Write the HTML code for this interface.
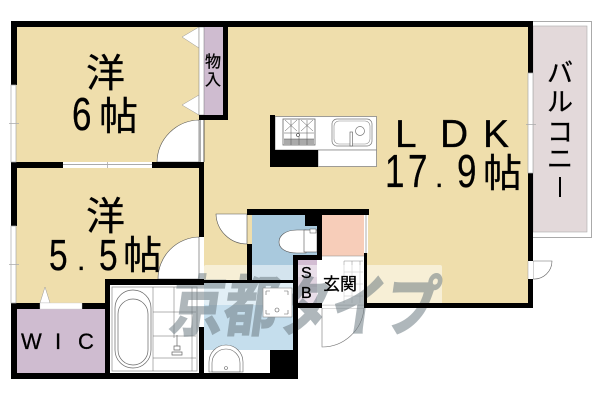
<!DOCTYPE html>
<html><head><meta charset="utf-8"><style>
html,body{margin:0;padding:0;background:#fff}
svg{display:block}
text{font-family:"Liberation Sans","Noto Sans CJK JP",sans-serif;fill:#000;stroke:#000;stroke-width:.3}
</style></head><body>
<svg width="600" height="400" viewBox="0 0 600 400" xmlns="http://www.w3.org/2000/svg">
<rect width="600" height="400" fill="#fff"/>
<!-- fills -->
<rect x="16" y="27" width="183" height="135" fill="#efdeac"/>
<rect x="16" y="168" width="183" height="135" fill="#efdeac"/>
<rect x="110" y="279" width="89" height="30" fill="#fff"/>
<rect x="204" y="27" width="324" height="276" fill="#efdeac"/>
<!-- balcony -->
<rect x="531.5" y="21.5" width="60" height="216" fill="#fff" stroke="#aaa"/>
<rect x="533" y="26" width="54" height="206" fill="#e3d9da" stroke="#aaa" stroke-width=".6"/>
<!-- closet / WIC -->
<rect x="204" y="27" width="19" height="88" fill="#cfbcd0"/>
<rect x="16" y="309" width="89" height="64" fill="#cfbcd0"/>
<!-- door swing whites -->
<path d="M157 162A43 43 0 0 1 199 120V162Z" fill="#fff" stroke="#555" stroke-width=".6"/>
<path d="M158 279A42 42 0 0 1 199 237V279Z" fill="#fff" stroke="#555" stroke-width=".6"/>
<path d="M216 214H247V244A31 31 0 0 1 216 214Z" fill="#fff" stroke="#555" stroke-width=".6"/>
<path d="M199 27V48L182 37Z M199 95V115H199L182 105Z" fill="#fff" stroke="#999" stroke-width=".5"/>
<path d="M40 303L45 287L50 303Z" fill="#fff" stroke="#999" stroke-width=".5"/>
<rect x="199" y="27" width="5" height="88" fill="#fff" stroke="#777" stroke-width=".5"/>
<rect x="199" y="120" width="5" height="42" fill="#fff"/>
<line x1="200" y1="120" x2="200" y2="162" stroke="#333" stroke-width=".8"/>
<line x1="204" y1="120" x2="204" y2="162" stroke="#333" stroke-width=".8"/>
<!-- bath -->
<rect x="110" y="285" width="89" height="88" fill="#fff"/>
<rect x="112" y="287" width="85" height="84" fill="none" stroke="#999" stroke-width=".8"/>
<rect x="115" y="290" width="36" height="78" rx="18" fill="#fff" stroke="#666" stroke-width=".7"/>
<rect x="118" y="299" width="30" height="66" rx="15" fill="#fff" stroke="#666" stroke-width=".7"/>
<path d="M153 287V371M174 287V338M192 287V371M153 312H196M153 336H196M153 358H196" stroke="#666" stroke-width=".5" fill="none"/>
<path d="M172 355H182V352H172ZM174 350H180V346H174ZM177 335V346" stroke="#666" stroke-width=".7" fill="#fff"/>
<!-- wash -->
<rect x="204" y="283" width="89" height="67" fill="#c5deed"/>
<rect x="204" y="350" width="66" height="23" fill="#fff"/>
<path d="M209 372V362A17 17 0 0 1 243 362V372Z" fill="#fff" stroke="#666" stroke-width=".6"/>
<path d="M212 372V363A14 14 0 0 1 240 363V372Z" fill="none" stroke="#666" stroke-width=".6"/>
<circle cx="226" cy="368" r="1.5" fill="none" stroke="#666" stroke-width=".6"/>
<!-- toilet -->
<rect x="252" y="215" width="53" height="65" fill="#a9c9dd"/>
<rect x="252" y="226" width="65" height="29" fill="#a9c9dd"/>
<path d="M306 230H297C285 230 279 236 279 242C279 248 285 253 297 253H306Z" fill="#fff" stroke="#555" stroke-width=".6"/>
<rect x="304" y="230" width="13" height="22" fill="#fff" stroke="#555" stroke-width=".6"/>
<rect x="310" y="229" width="6" height="4" fill="#fff" stroke="#555" stroke-width=".5"/>
<!-- entrance -->
<rect x="322" y="215" width="42" height="41" fill="#f7cdb9"/>
<rect x="364" y="215" width="4" height="38" fill="#fff"/>
<line x1="366" y1="215" x2="366" y2="253" stroke="#777" stroke-width=".6"/>
<rect x="317" y="256" width="47" height="47" fill="#fff"/>
<path d="M322 256H364" stroke="#888" stroke-width=".6"/>
<path d="M344 261H363M344 272H363M344 284H363M344 296H363M344 261V303M352 261V303M360 261V303" stroke="#888" stroke-width=".5" fill="none"/>
<rect x="298" y="260" width="19" height="45" fill="#d3bdd3"/>
<rect x="298" y="277" width="19" height="10" fill="#bfa7bf"/>
<!-- front door -->
<path d="M322 308V347A42 42 0 0 0 364 308Z" fill="#fff" stroke="#777" stroke-width=".6"/>
<rect x="322" y="304" width="42" height="4" fill="#fff"/>
<line x1="322" y1="305" x2="364" y2="305" stroke="#888" stroke-width=".6"/>
<!-- balcony door -->
<path d="M533 261H552A18 18 0 0 1 533 279Z" fill="#fff" stroke="#666" stroke-width=".6"/>
<rect x="528" y="261" width="5" height="18" fill="#fff"/>
<path d="M528 261V279" stroke="#999" stroke-width=".5"/>
<!-- watermark -->
<rect x="204" y="265" width="238" height="40" rx="2" fill="#fff" fill-opacity=".5"/>
<g transform="translate(168,330) skewX(-8)" opacity=".55">
<text x="0" y="0" font-size="66" font-weight="bold" style="fill:#6f7d84;stroke:#6f7d84;stroke-width:1.5" textLength="268" lengthAdjust="spacingAndGlyphs">京都タイプ</text>
</g>
<!-- shower unit over watermark -->
<rect x="263" y="288" width="29" height="29" fill="#fff" stroke="#888" stroke-width=".6"/>
<circle cx="277" cy="310" r="2" fill="none" stroke="#555" stroke-width=".6"/>
<path d="M266 291h4M266 291v4M288 291h-4M288 291v4M266 314h4M266 314v-4M288 314h-4M288 314v-4" stroke="#666" stroke-width=".6"/>
<!-- walls -->
<g fill="#000">
<rect x="11" y="21" width="520" height="6"/>
<rect x="11" y="21" width="6" height="64"/>
<rect x="11" y="162" width="6" height="64"/>
<rect x="11" y="303" width="6" height="76"/>
<rect x="11" y="162" width="52" height="6"/>
<rect x="152" y="162" width="52" height="6"/>
<rect x="223" y="27" width="5" height="93"/>
<rect x="199" y="115" width="29" height="5"/>
<rect x="199" y="168" width="5" height="69"/>
<rect x="199" y="279" width="5" height="6"/>
<rect x="11" y="303" width="29" height="6"/>
<rect x="82" y="303" width="28" height="6"/>
<rect x="105" y="279" width="5" height="100"/>
<rect x="105" y="279" width="99" height="6"/>
<rect x="199" y="327" width="5" height="52"/>
<rect x="11" y="373" width="287" height="6"/>
<rect x="247" y="209" width="122" height="6"/>
<rect x="247" y="244" width="5" height="36"/>
<rect x="204" y="280" width="89" height="3"/>
<rect x="305" y="209" width="17" height="17"/>
<rect x="317" y="226" width="5" height="30"/>
<rect x="293" y="255" width="29" height="5"/>
<rect x="293" y="255" width="5" height="124"/>
<rect x="270" y="350" width="28" height="29"/>
<rect x="293" y="303" width="29" height="5"/>
<rect x="364" y="253" width="3" height="55"/>
<rect x="364" y="303" width="169" height="5"/>
<rect x="528" y="21" width="5" height="52"/>
<rect x="528" y="173" width="5" height="88"/>
<rect x="528" y="279" width="5" height="29"/>
</g>
<!-- windows -->
<rect x="11" y="85" width="5" height="77" fill="#fff" stroke="#aaa" stroke-width=".7"/>
<rect x="11" y="226" width="5" height="77" fill="#fff" stroke="#aaa" stroke-width=".7"/>
<rect x="528" y="73" width="5" height="100" fill="#fff" stroke="#aaa" stroke-width=".7"/>
<rect x="63" y="162" width="89" height="6" fill="#fff"/>
<line x1="63" y1="164.5" x2="152" y2="164.5" stroke="#aaa"/>
<path d="M9 123.500H19M9 264.500H19M526 124.500H536M107.500 162V168" stroke="#aaa" stroke-width=".8"/>
<rect x="40" y="303" width="42" height="6" fill="#fff" stroke="#ccc" stroke-width=".4"/>
<!-- kitchen -->
<rect x="275" y="116.500" width="101.500" height="33.500" fill="#fff" stroke="#888" stroke-width=".8"/>
<rect x="318" y="150" width="58.500" height="16.500" fill="#fff" stroke="#888" stroke-width=".8"/>
<rect x="270" y="115" width="5" height="52" fill="#000"/>
<rect x="270" y="150" width="48" height="17" fill="#000"/>
<rect x="283" y="119" width="32" height="26" fill="#fff" stroke="#666" stroke-width=".8"/>
<rect x="284" y="139" width="30" height="6" fill="#aaa"/>
<path d="M284 133H314M284 139H314M299 119V145M291 120V145M307 120V145M285 120L297 131M297 120L285 131M301 120L313 131M313 120L301 131" stroke="#555" stroke-width=".5" fill="none"/>
<circle cx="298" cy="135" r="1.500" fill="#fff" stroke="#333" stroke-width=".6"/>
<rect x="332" y="119" width="40" height="27" rx="5" fill="#fff" stroke="#777" stroke-width=".7"/>
<rect x="334" y="121" width="36" height="23" rx="5" fill="none" stroke="#888" stroke-width=".6"/>
<circle cx="360" cy="131" r="4.500" fill="none" stroke="#777" stroke-width=".7"/>
<rect x="350" y="132" width="2.500" height="14" fill="#fff" stroke="#555" stroke-width=".6"/>
<!-- labels -->
<text x="86" y="87" font-size="39">洋</text>
<text x="0" y="0" font-size="46" transform="translate(72,130) scale(.76,1)">6</text>
<text x="99" y="130" font-size="39">帖</text>
<text x="86" y="230" font-size="39">洋</text>
<text x="0" y="0" font-size="44" transform="translate(49,270) scale(.76,1)">5</text>
<text x="77" y="270" font-size="30">.</text>
<text x="0" y="0" font-size="44" transform="translate(99,270) scale(.76,1)">5</text>
<text x="123" y="269" font-size="39">帖</text>
<text x="395" y="147" font-size="39">L</text>
<text x="440" y="147" font-size="39">D</text>
<text x="483" y="147" font-size="39">K</text>
<text x="0" y="0" font-size="46" transform="translate(385,187) scale(.76,1)">1</text>
<text x="0" y="0" font-size="46" transform="translate(408,187) scale(.76,1)">7</text>
<text x="435" y="187" font-size="30">.</text>
<text x="0" y="0" font-size="46" transform="translate(457,187) scale(.76,1)">9</text>
<text x="483" y="187" font-size="39">帖</text>
<text x="21" y="349" font-size="22">W</text>
<text x="55" y="349" font-size="22">I</text>
<text x="78" y="349" font-size="22">C</text>
<text x="205" y="67" font-size="16">物</text>
<text x="205" y="85" font-size="16">入</text>
<text x="301" y="278" font-size="16">S</text>
<text x="301" y="298" font-size="16">B</text>
<text x="323" y="290" font-size="17">玄関</text>
<text x="547" y="82" font-size="26">バ</text>
<text x="547" y="111" font-size="26">ル</text>
<text x="547" y="141" font-size="26">コ</text>
<text x="547" y="168" font-size="26">ニ</text>
<rect x="559" y="177" width="2" height="20" fill="#000"/>
</svg>
</body></html>
